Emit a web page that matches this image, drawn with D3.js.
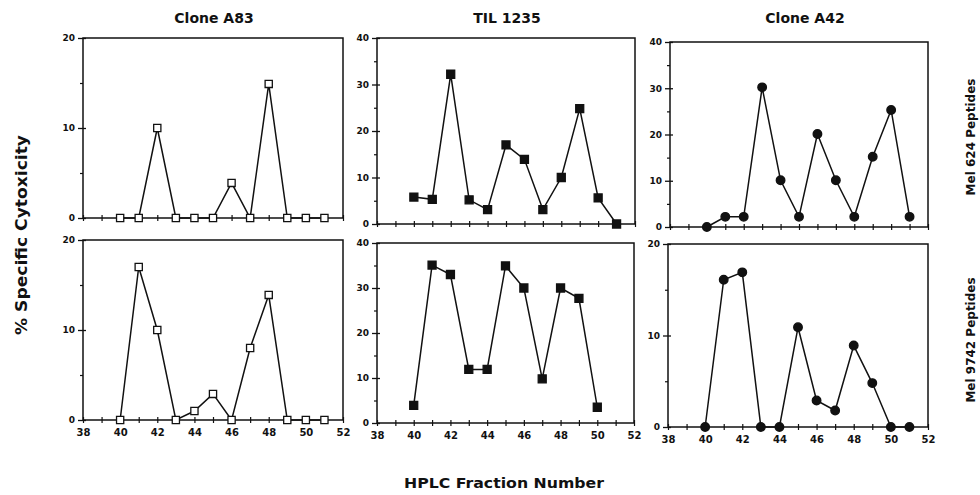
<!DOCTYPE html>
<html>
<head>
<meta charset="utf-8">
<script src="https://cdn.jsdelivr.net/npm/d3@7/dist/d3.min.js"></script>
<style>
  body { margin: 0; background: #fff; }
  text { font-family: "DejaVu Sans", sans-serif; font-weight: bold; fill: #111; }
</style>
</head>
<body>
<svg id="chart" width="980" height="495"></svg>
<script>
// HPLC fraction numbers on x
const fractions = [40, 41, 42, 43, 44, 45, 46, 47, 48, 49, 50, 51];
const xTickLabels = [38, 40, 42, 44, 46, 48, 50, 52];

const columnTitles = ['Clone A83', 'TIL 1235', 'Clone A42'];
const rowTitles = ['Mel 624 Peptides', 'Mel 9742 Peptides'];

// % specific cytotoxicity
const a83Mel624 = [0, 0, 10, 0, 0, 0, 3.9, 0, 14.9, 0, 0, 0];
const a83Mel9742 = [0, 17, 10, 0, 1, 2.9, 0, 8, 13.9, 0, 0, 0];
const til1235Mel624 = [5.8, 5.3, 32.2, 5.2, 3.1, 17, 13.9, 3.1, 10, 24.8, 5.6, 0];
const til1235Mel9742 = [3.9, 35.1, 33, 11.9, 11.9, 34.9, 30, 9.8, 30, 27.7, 3.5];
const a42Mel624 = [0, 2.2, 2.2, 30.2, 10.1, 2.2, 20.1, 10.1, 2.2, 15.2, 25.3, 2.2];
const a42Mel9742 = [0, 16.1, 16.9, 0, 0, 10.9, 2.9, 1.8, 8.9, 4.8, 0, 0];

const panels = [
  {col: 0, row: 0, values: a83Mel624, yMax: 20, marker: 'open'},
  {col: 1, row: 0, values: til1235Mel624, yMax: 40, marker: 'square'},
  {col: 2, row: 0, values: a42Mel624, yMax: 40, marker: 'circle'},
  {col: 0, row: 1, values: a83Mel9742, yMax: 20, marker: 'open'},
  {col: 1, row: 1, values: til1235Mel9742, yMax: 40, marker: 'square'},
  {col: 2, row: 1, values: a42Mel9742, yMax: 20, marker: 'circle'},
];

// frame of each panel, the scan is a bit skewed so they differ slightly
const frames = [
  [{x0: 83, x1: 343, y0: 38, y1: 218}, {x0: 377, x1: 635, y0: 38, y1: 224}, {x0: 670, x1: 928, y0: 42, y1: 227}],
  [{x0: 83, x1: 343, y0: 240, y1: 420}, {x0: 377, x1: 634, y0: 243, y1: 423}, {x0: 668, x1: 928, y0: 244, y1: 427}],
];

const ink = '#111';
const svg = d3.select('#chart');

panels.forEach(p => {
  const f = frames[p.row][p.col];
  const x = d3.scaleLinear().domain([38, 52]).range([f.x0, f.x1]);
  const y = d3.scaleLinear().domain([0, p.yMax]).range([f.y1, f.y0]);
  const g = svg.append('g');

  g.append('rect')
    .attr('x', f.x0).attr('y', f.y0)
    .attr('width', f.x1 - f.x0).attr('height', f.y1 - f.y0)
    .attr('fill', 'none')
    .attr('stroke', ink)
    .attr('stroke-width', 1.5);

  // y axis, major + minor ticks
  const majors = d3.range(0, p.yMax + 1, 10);
  const minors = d3.range(5, p.yMax, 10);
  const yAxis = g.append('g')
    .attr('transform', `translate(${f.x0},0)`)
    .call(d3.axisLeft(y).tickValues(majors).tickSize(4).tickPadding(4));
  yAxis.select('.domain').remove();
  yAxis.selectAll('line').attr('x2', -5).attr('x1', 3).attr('stroke', ink).attr('stroke-width', 1.3);
  yAxis.selectAll('text').attr('font-size', 9).style('font-family', '"DejaVu Sans", sans-serif');

  const yMinor = g.append('g')
    .attr('transform', `translate(${f.x0},0)`)
    .call(d3.axisLeft(y).tickValues(minors).tickSize(3).tickFormat(''));
  yMinor.select('.domain').remove();
  yMinor.selectAll('line').attr('stroke', ink).attr('stroke-width', 1.2);

  // x axis, ticks at every fraction, labels on the bottom row only
  const xAxis = g.append('g')
    .attr('transform', `translate(0,${f.y1})`)
    .call(d3.axisBottom(x)
      .tickValues(d3.range(38, 53))
      .tickSize(3)
      .tickPadding(6)
      .tickFormat(d => (p.row === 1 && xTickLabels.includes(d)) ? d : ''));
  xAxis.select('.domain').remove();
  xAxis.selectAll('line').attr('y1', -3).attr('y2', 3).attr('stroke', ink).attr('stroke-width', 1.2);
  xAxis.selectAll('text').attr('font-size', 10).style('font-family', '"DejaVu Sans", sans-serif');

  const pts = p.values.map((v, i) => ({fx: fractions[i], v}));

  g.append('path')
    .datum(pts)
    .attr('fill', 'none')
    .attr('stroke', ink)
    .attr('stroke-width', 1.5)
    .attr('d', d3.line().x(d => x(d.fx)).y(d => y(d.v)));

  const sym = p.marker === 'circle' ? d3.symbolCircle : d3.symbolSquare;
  const size = p.marker === 'circle' ? 58 : (p.marker === 'square' ? 64 : 52);
  g.selectAll('path.pt')
    .data(pts)
    .join('path')
      .attr('class', 'pt')
      .attr('transform', d => `translate(${x(d.fx)},${y(d.v)})`)
      .attr('d', d3.symbol(sym, size))
      .attr('fill', p.marker === 'open' ? '#fff' : ink)
      .attr('stroke', ink)
      .attr('stroke-width', 1.3);
});

// column titles
svg.selectAll('text.col-title')
  .data(columnTitles)
  .join('text')
    .attr('class', 'col-title')
    .attr('x', (d, i) => (frames[0][i].x0 + frames[0][i].x1) / 2 + (i === 2 ? 6 : 1))
    .attr('y', 23)
    .attr('text-anchor', 'middle')
    .attr('font-size', 14)
    .text(d => d);

// row titles on the right
const rowCenters = [137, 340];
svg.selectAll('text.row-title')
  .data(rowTitles)
  .join('text')
    .attr('class', 'row-title')
    .attr('transform', (d, i) => `translate(975,${rowCenters[i]}) rotate(-90)`)
    .attr('text-anchor', 'middle')
    .attr('font-size', 12)
    .text(d => d);

svg.append('text')
  .attr('transform', 'translate(27,235) rotate(-90)')
  .attr('text-anchor', 'middle')
  .attr('font-size', 15)
  .attr('textLength', 200)
  .attr('lengthAdjust', 'spacingAndGlyphs')
  .text('% Specific Cytoxicity');

svg.append('text')
  .attr('x', 504)
  .attr('y', 488)
  .attr('text-anchor', 'middle')
  .attr('font-size', 14)
  .attr('textLength', 200)
  .attr('lengthAdjust', 'spacingAndGlyphs')
  .text('HPLC Fraction Number');
</script>
</body>
</html>
